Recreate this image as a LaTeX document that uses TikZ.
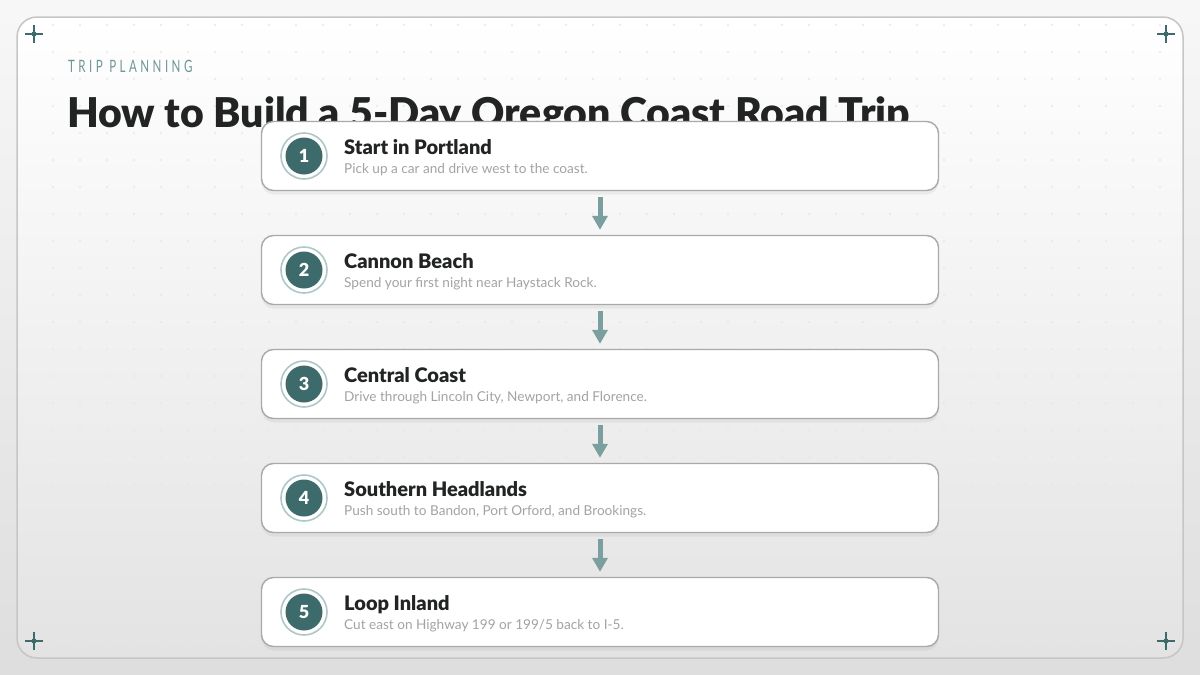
\documentclass[tikz,border=0pt]{standalone}
\usepackage{fontspec}
\setmainfont{Lato}
\newfontfamily\heavyfont{Lato Black}
\newfontfamily\eyebrowfont[LetterSpace=30]{Lato}
\usetikzlibrary{shadows,arrows.meta}
\definecolor{tealdark}{HTML}{3D6B6B}
\definecolor{tealsoft}{HTML}{AFC7C7}
\definecolor{arrowteal}{HTML}{7B9E9E}
\definecolor{eyebrowteal}{HTML}{6F9696}
\definecolor{inkdark}{HTML}{222424}
\definecolor{inkgray}{HTML}{A3A3A3}
\definecolor{framegray}{HTML}{C6C6C6}
\definecolor{boxgray}{HTML}{A9A9A9}
\tikzset{
  stepbox/.style={rectangle, draw=boxgray, line width=1.4pt, fill=white,
    rounded corners=12pt, minimum width=677pt, minimum height=69pt,
    drop shadow={opacity=0.10, shadow xshift=0pt, shadow yshift=-4pt}},
  numring/.style={circle, draw=tealsoft, line width=1.6pt, fill=white, minimum size=46pt},
  numdot/.style={circle, fill=tealdark, minimum size=37pt, inner sep=0pt,
    text=white, font=\heavyfont\fontsize{18}{18}\selectfont},
  steptitle/.style={anchor=base west, inner sep=0pt, text=inkdark,
    font=\heavyfont\fontsize{20}{20}\selectfont},
  stepnote/.style={anchor=base west, inner sep=0pt, text=inkgray,
    font=\fontsize{13.6}{13.6}\selectfont},
  flowarrow/.style={draw=arrowteal, line width=5pt,
    -{Triangle[length=14pt,width=15pt]}, shorten <=6pt, shorten >=5pt},
  corner/.style={draw=tealdark, line width=1.6pt}
}
\begin{document}
\begin{tikzpicture}[x=1pt,y=-1pt]
  \useasboundingbox (0,0) rectangle (1200,675);
  \shade[top color=black!3, bottom color=black!13] (0,0) rectangle (1200,675);
  \shadedraw[top color=white, bottom color=black!11, draw=framegray, line width=1.5pt,
    rounded corners=20pt] (17,17) rectangle (1183,658);

  \foreach \x in {53,80,...,1160}
    \foreach \y in {25,52,...,650}
      \fill[black!9] (\x,\y) circle (1.1);

  \foreach \p in {(34,34),(1166,34),(34,641),(1166,641)} {
    \draw[corner] \p ++(-9,0) -- ++(18,0);
    \draw[corner] \p ++(0,-9) -- ++(0,18);
    \fill[tealdark] \p circle (2.6);
  }

  \node[anchor=base west, inner sep=0pt, text=eyebrowteal] (eyebrow) at (68,72)
    {\scalebox{0.68}[1]{\eyebrowfont\fontsize{17}{17}\selectfont TRIP PLANNING}};
  \node[anchor=base west, inner sep=0pt, text=inkdark] (headline) at (67,127)
    {\heavyfont\fontsize{41}{41}\selectfont How to Build a 5-Day Oregon Coast Road Trip};

  \foreach \n/\y/\head/\sub in {
      1/156/{Start in Portland}/{Pick up a car and drive west to the coast.},
      2/270/{Cannon Beach}/{Spend your first night near Haystack Rock.},
      3/384/{Central Coast}/{Drive through Lincoln City, Newport, and Florence.},
      4/498/{Southern Headlands}/{Push south to Bandon, Port Orford, and Brookings.},
      5/612/{Loop Inland}/{Cut east on Highway 199 or 199/5 back to I-5.}} {
    \node[stepbox] (s\n) at (600,\y) {};
    \node[numring] (r\n) at (304,\y) {};
    \node[numdot] (d\n) at (r\n) {\n};
    \node[steptitle] (t\n) at (344,\y-2) {\head};
    \node[stepnote] (u\n) at (344,\y+17) {\sub};
  }

  \foreach \a/\b in {1/2,2/3,3/4,4/5}
    \draw[flowarrow] (s\a.south) -- (s\b.north);
\end{tikzpicture}
\end{document}
